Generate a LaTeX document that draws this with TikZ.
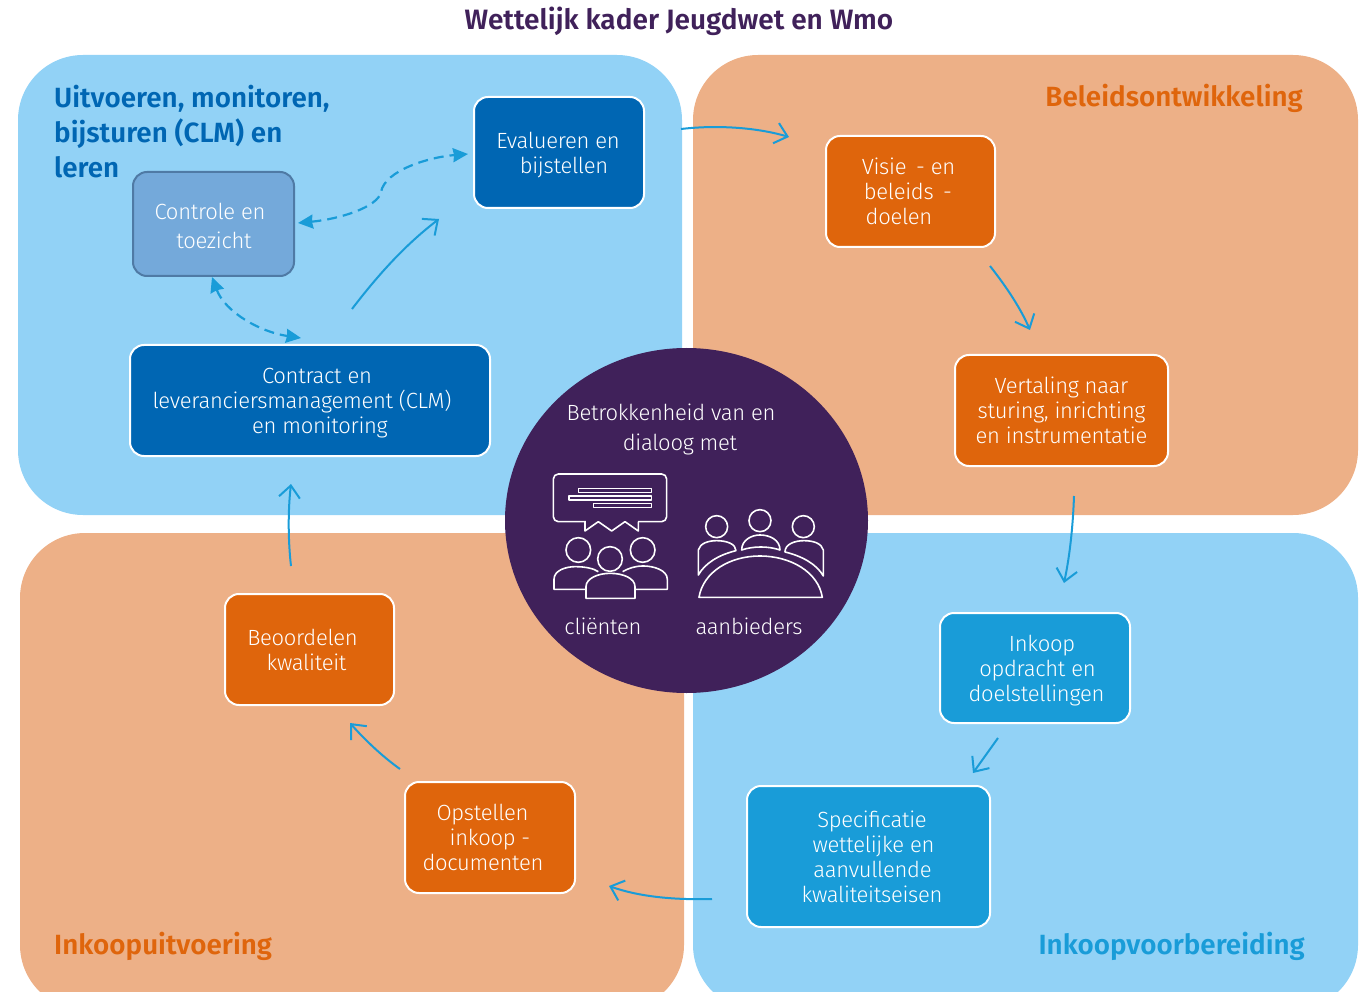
\documentclass[tikz,border=0pt]{standalone}
\usepackage{fontspec}
\setmainfont{Fira Sans}[UprightFont=* Light,BoldFont=* SemiBold,UprightFeatures={LetterSpace=-1.3}]
\usetikzlibrary{arrows.meta,shapes.geometric}
\definecolor{pblue}{HTML}{92D2F6}
\definecolor{porange}{HTML}{EDB087}
\definecolor{purp}{HTML}{40215A}
\definecolor{bdark}{HTML}{0066B3}
\definecolor{bmid}{HTML}{199CD8}
\definecolor{oran}{HTML}{DF650C}
\definecolor{ctrl}{HTML}{74A9DA}
\definecolor{ctrlb}{HTML}{4F7AA5}
\tikzset{
 panel/.style={fill=#1,rounded corners=65pt},
 box/.style={draw=white,line width=2pt,rounded corners=14pt,fill=#1,text=white,align=center,font=\fontsize{22}{25}\selectfont,inner sep=0pt},
 flow/.style={draw=bmid,line width=2pt,-{Straight Barb[length=12pt,width=21pt,line width=2pt]}},
 dashflow/.style={draw=bmid,line width=2.2pt,dash pattern=on 10pt off 6pt,{Stealth[inset=1pt,length=15pt,width=14pt]}-{Stealth[inset=1pt,length=15pt,width=14pt]}},
 head/.style={font=\fontsize{27.8}{35}\selectfont\bfseries,inner sep=0pt},
 circtext/.style={text=white,font=\fontsize{22}{25}\selectfont,inner sep=0pt},
 icon/.style={draw=white,line width=1.6pt,line join=round},
}
\newcommand{\sh}[1]{\hspace*{#1pt}}
\newcommand{\dn}[1]{\rule{0pt}{\dimexpr16.5pt+#1pt+#1pt\relax}}
\newcommand{\boxat}[7]{\node[box=#6,minimum width=#3 pt-#1 pt,minimum height=#4 pt-#2 pt] (#5) at ({(#1+#3)/2},{(#2+#4)/2}) {#7};}
\begin{document}
\begin{tikzpicture}[x=1pt,y=-1pt]
\useasboundingbox (0,0) rectangle (1366,992);
\begin{scope}
\clip (0,0) rectangle (1366,992);
\fill[panel=pblue] (18,55) rectangle (682,515);
\fill[panel=porange] (693,55) rectangle (1358,515);
\fill[panel=porange] (20,533) rectangle (684,1010);
\fill[panel=pblue] (693,533) rectangle (1358,1010);
\end{scope}
\node[ellipse,fill=purp,minimum width=363pt,minimum height=345pt,inner sep=0pt] (hub) at (686.5,520.5) {};

\node[text=purp,font=\fontsize{28}{30}\selectfont\bfseries,inner sep=0pt] (title) at (679,21) {Wettelijk kader Jeugdwet en Wmo};
\node[head,text=bdark,align=left,anchor=north west] (h1) at (54,85) {Uitvoeren, monitoren,\\bijsturen (CLM) en\\leren};
\node[head,text=oran,anchor=east] (h2) at (1303,98) {Beleidsontwikkeling};
\node[head,text=oran,anchor=west] (h3) at (54,946) {Inkoopuitvoering};
\node[head,text=bmid,anchor=east] (h4) at (1305,946) {Inkoopvoorbereiding};

\boxat{474}{97}{644}{208}{eval}{bdark}{\dn{2}\sh{-2}Evalueren en\\\sh{10}bijstellen}
\node[box=ctrl,draw=ctrlb,minimum width=161pt,minimum height=104pt,font=\fontsize{22}{29}\selectfont] (ctrl) at (213.5,224) {\dn{2}\sh{-7}Controle en\\\sh{1}toezicht};
\boxat{130}{345}{490}{456}{clm}{bdark}{\dn{2}\sh{14}Contract en\\\sh{-16}leveranciersmanagement (CLM)\\\sh{20}en monitoring}
\boxat{826}{136}{995}{247}{visie}{oran}{\sh{-4}Visie\, - en\\\sh{-5}beleids\, -\\\sh{-23}doelen}
\boxat{955}{355}{1168}{466}{vert}{oran}{Vertaling naar\\sturing, inrichting\\en instrumentatie}
\boxat{940}{613}{1130}{723}{ink}{bmid}{\dn{3}\sh{14}Inkoop\\\sh{5}opdracht en\\\sh{3}doelstellingen}
\boxat{747}{786}{990}{927}{spec}{bmid}{\sh{7}Specificatie\\\sh{10}wettelijke en\\\sh{8}aanvullende\\\sh{7}kwaliteitseisen}
\boxat{225}{594}{394}{705}{beo}{oran}{\sh{-14}Beoordelen\\\sh{-6}kwaliteit}
\boxat{405}{782}{575}{893}{ops}{oran}{\sh{-15}Opstellen\\inkoop -\\\sh{-14}documenten}

\node[circtext] (c1) at (671,412) {Betrokkenheid van en};
\node[circtext] (c2) at (680,444) {dialoog met};
\node[circtext] (c3) at (603,626) {cliënten};
\node[circtext] (c4) at (749,626) {aanbieders};

% icons, in coordinates of a 3x crop
\begin{scope}[shift={(530,460)},x=0.3333pt,y=-0.3333pt,icon]
\draw[icon,rounded corners=5pt] (70,42) rectangle (410,185);
\fill[purp] (167,180) rectangle (323,190);
\draw[icon] (165,185) -- (165,213) -- (205,185) -- (245,213) -- (285,185) -- (325,213) -- (325,185);
\draw[icon] (145,85) rectangle (365,97);
\draw[icon] (117,108) rectangle (365,120);
\draw[icon] (190,131) rectangle (365,143);
\draw[icon] (145,270) circle[radius=37];
\draw[icon] (338,270) circle[radius=37];
\draw[icon] (240,297) circle[radius=37];
\draw[icon] (165,388) -- (72,388) -- (72,358) .. controls (72,330) and (110,320) .. (135,320) .. controls (165,320) and (190,325) .. (205,335);
\draw[icon] (315,388) -- (412,388) -- (412,358) .. controls (412,330) and (370,318) .. (340,318) .. controls (315,318) and (295,325) .. (278,335);
\draw[icon] (168,415) -- (168,380) .. controls (168,355) and (205,340) .. (240,340) .. controls (280,340) and (315,355) .. (315,380) -- (315,415) -- cycle;
\draw[icon] (560,200) circle[radius=33];
\draw[icon] (690,182) circle[radius=33];
\draw[icon] (820,200) circle[radius=33];
\draw[icon] (507,412) -- (877,412) .. controls (865,335) and (780,288) .. (690,288) .. controls (600,288) and (520,335) .. (507,412) -- cycle;
\draw[icon] (505,345) -- (505,270) .. controls (510,250) and (535,242) .. (560,242) .. controls (590,242) and (618,252) .. (618,272) .. controls (565,285) and (525,310) .. (505,345) -- cycle;
\draw[icon] (635,270) .. controls (635,240) and (665,225) .. (690,225) .. controls (720,225) and (750,240) .. (750,270) .. controls (715,258) and (670,258) .. (635,270) -- cycle;
\draw[icon] (880,348) -- (880,270) .. controls (875,250) and (850,242) .. (822,242) .. controls (795,242) and (765,252) .. (765,276) .. controls (815,288) and (860,312) .. (880,348) -- cycle;
\end{scope}

% connector ends
\coordinate (a1s) at (681,129); \coordinate (a1e) at (789,137);
\coordinate (a2s) at (990,266); \coordinate (a2e) at (1030,330);
\coordinate (a3s) at (1074,496); \coordinate (a3e) at (1064,583);
\coordinate (a4s) at (998,738); \coordinate (a4e) at (973,773);
\coordinate (a5s) at (712,899); \coordinate (a5e) at (609,886);
\coordinate (a6s) at (400,769); \coordinate (a6e) at (350,723);
\coordinate (a7s) at (291,566); \coordinate (a7e) at (291,484);
\coordinate (a8s) at (352,309); \coordinate (a8e) at (439,219);
\coordinate (d1s) at (298,223); \coordinate (d1e) at (468,154);
\coordinate (d2s) at (212,277); \coordinate (d2e) at (301,338);

\draw[flow] (a1s) .. controls (715,125) and (755,127) .. (a1e);
\draw[flow] (a2s) .. controls (1005,285) and (1020,307) .. (a2e);
\draw[flow] (a3s) .. controls (1073,525) and (1070,555) .. (a3e);
\draw[flow] (a4s) -- (a4e);
\draw[flow] (a5s) .. controls (675,900) and (640,897) .. (a5e);
\draw[flow] (a6s) .. controls (383,757) and (365,740) .. (a6e);
\draw[flow] (a7s) .. controls (288,540) and (288,510) .. (a7e);
\draw[flow] (a8s) .. controls (378,275) and (405,245) .. (a8e);
\draw[dashflow] (d1s) .. controls (340,219) and (378,207) .. (381,192) .. controls (385,170) and (430,157) .. (d1e);
\draw[dashflow] (d2s) .. controls (225,312) and (260,332) .. (d2e);
\end{tikzpicture}
\end{document}
